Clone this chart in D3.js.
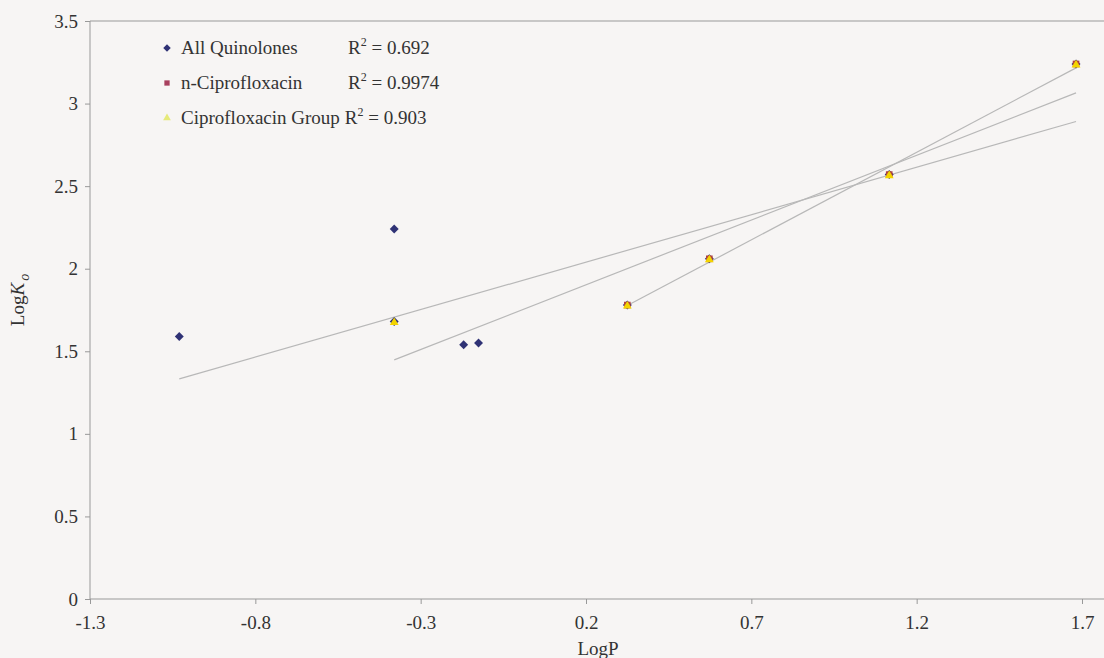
<!DOCTYPE html>
<html>
<head>
<meta charset="utf-8">
<script src="https://cdn.jsdelivr.net/npm/d3@7"></script>
<style>
  body { margin: 0; background: #f7f5f4; }
  svg text { font-family: "Liberation Serif", "Times New Roman", serif; fill: #333; }
</style>
</head>
<body>
<div id="chart"></div>
<script>
// values
var allX = [-1.03, -0.38, -0.38, -0.17, -0.125, 0.325, 0.573, 1.117, 1.682];
var allY = [1.59, 2.24, 1.68, 1.54, 1.55, 1.78, 2.06, 2.57, 3.24];
var nCipX = [0.325, 0.573, 1.117, 1.682];
var nCipY = [1.78, 2.06, 2.57, 3.24];
var grpX = [-0.38, 0.325, 0.573, 1.117, 1.682];
var grpY = [1.68, 1.78, 2.06, 2.57, 3.24];
var xTicks = [-1.3, -0.8, -0.3, 0.2, 0.7, 1.2, 1.7];
var yTicks = [0, 0.5, 1, 1.5, 2, 2.5, 3, 3.5];
var seriesNames = ["All Quinolones", "n-Ciprofloxacin", "Ciprofloxacin Group"];
var r2Labels = ["0.692", "0.9974", "0.903"];

var w = 1104, h = 658;
var svg = d3.select("#chart").append("svg")
  .attr("width", w).attr("height", h);

var x = d3.scaleLinear().domain([-1.3, 1.7]).range([90, 1082]);
var y = d3.scaleLinear().domain([0, 3.5]).range([599, 21]);

// top border of plot area
svg.append("line")
  .attr("x1", x(-1.3)).attr("x2", w)
  .attr("y1", y(3.5)).attr("y2", y(3.5))
  .attr("stroke", "#999").attr("stroke-width", 1);

var xAxis = svg.append("g")
  .attr("transform", "translate(0," + y(0) + ")")
  .call(d3.axisBottom(x).tickValues(xTicks).tickSize(5).tickPadding(12)
    .tickFormat(function(d) { return String(+d.toFixed(1)); }));
// axis line runs on to the right edge
xAxis.select(".domain").attr("d", "M" + x(-1.3) + ",0H" + w);

var yAxis = svg.append("g")
  .attr("transform", "translate(" + x(-1.3) + ",0)")
  .call(d3.axisLeft(y).tickValues(yTicks).tickSize(5).tickPadding(7)
    .tickFormat(function(d) { return String(d); }));
yAxis.select(".domain").attr("d", "M0," + y(0) + "V" + y(3.5));

svg.selectAll(".tick text").attr("font-size", 19).attr("fill", "#333")
  .attr("font-family", "Liberation Serif");
svg.selectAll(".domain, .tick line").attr("stroke", "#999");

// axis titles
svg.append("text")
  .attr("x", 598).attr("y", 655)
  .attr("text-anchor", "middle").attr("font-size", 19)
  .text("LogP");

var yl = svg.append("text")
  .attr("transform", "translate(24,300) rotate(-90)")
  .attr("text-anchor", "middle").attr("font-size", 19);
yl.append("tspan").text("Log");
yl.append("tspan").attr("font-style", "italic").text("K");
yl.append("tspan").attr("font-style", "italic").attr("font-size", 14)
  .attr("dy", 5).attr("dx", 2).text("o");

// linear trend lines, fitted from the data
function fit(xs, ys) {
  var mx = d3.mean(xs), my = d3.mean(ys);
  var sxy = d3.sum(xs, function(v, i) { return (v - mx) * (ys[i] - my); });
  var sxx = d3.sum(xs, function(v) { return (v - mx) * (v - mx); });
  var b = sxy / sxx;
  return { b: b, a: my - b * mx, x0: d3.min(xs), x1: d3.max(xs) };
}
[fit(allX, allY), fit(nCipX, nCipY), fit(grpX, grpY)].forEach(function(f) {
  svg.append("line")
    .attr("x1", x(f.x0)).attr("y1", y(f.a + f.b * f.x0))
    .attr("x2", x(f.x1)).attr("y2", y(f.a + f.b * f.x1))
    .attr("stroke", "#b8b8b8").attr("stroke-width", 1.2);
});

// excel style diamond: a square turned 45 degrees
var diamond = d3.symbol().type(d3.symbolSquare).size(40);
var square = d3.symbol().type(d3.symbolSquare).size(44);
var tri = d3.symbol().type(d3.symbolTriangle).size(34);

svg.append("g").selectAll("path")
  .data(allX.map(function(v, i) { return [v, allY[i]]; }))
  .enter().append("path")
  .attr("d", diamond)
  .attr("transform", function(d) { return "translate(" + x(d[0]) + "," + y(d[1]) + ") rotate(45)"; })
  .attr("fill", "#2f3275");

svg.append("g").selectAll("path")
  .data(nCipX.map(function(v, i) { return [v, nCipY[i]]; }))
  .enter().append("path")
  .attr("d", square)
  .attr("transform", function(d) { return "translate(" + x(d[0]) + "," + y(d[1]) + ")"; })
  .attr("fill", "#b0423e");

svg.append("g").selectAll("path")
  .data(grpX.map(function(v, i) { return [v, grpY[i]]; }))
  .enter().append("path")
  .attr("d", tri)
  .attr("transform", function(d) { return "translate(" + x(d[0]) + "," + (y(d[1]) + 1) + ")"; })
  .attr("fill", "#f3d400");

// legend
var legY = [48, 83, 118];
var legMark = [diamond, square, tri];
var legRot = [45, 0, 0];
var legCol = ["#2f3275", "#a8405e", "#e6ea7a"];
seriesNames.forEach(function(name, i) {
  svg.append("path")
    .attr("d", legMark[i].size(i == 2 ? 26 : 28))
    .attr("transform", "translate(167," + legY[i] + ") rotate(" + legRot[i] + ")")
    .attr("fill", legCol[i]);
  var t = svg.append("text")
    .attr("x", 181).attr("y", legY[i] + 6)
    .attr("font-size", 19);
  t.append("tspan").text(name);
  var r = svg.append("text")
    .attr("y", legY[i] + 6).attr("font-size", 19);
  if (i < 2) r.attr("x", 348);
  else r.attr("x", 181 + t.node().getComputedTextLength() + 5);
  r.append("tspan").text("R");
  r.append("tspan").attr("font-size", 12).attr("dy", -8).text("2");
  r.append("tspan").attr("dy", 8).text(" = " + r2Labels[i]);
});
</script>
</body>
</html>
